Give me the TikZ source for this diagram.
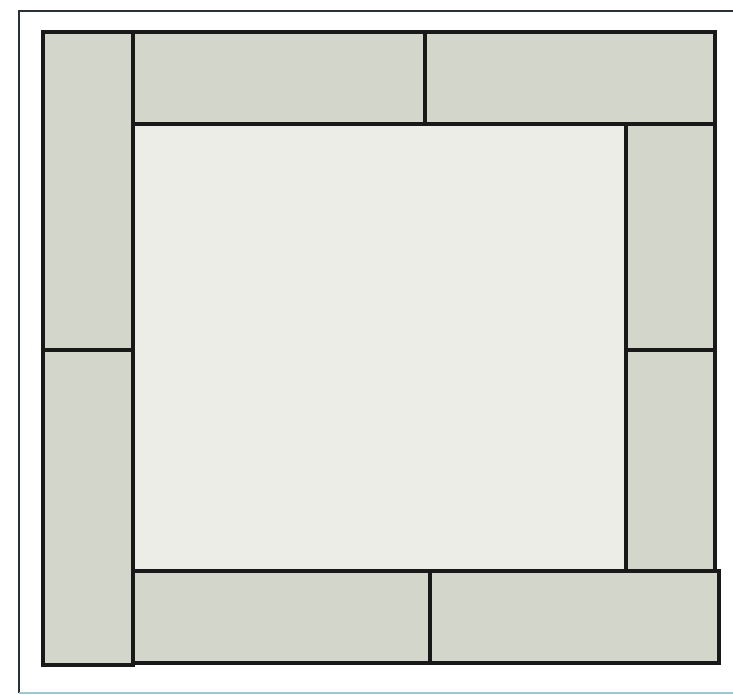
\documentclass[tikz,border=0pt]{standalone}
\definecolor{matfill}{HTML}{D3D6CB}
\definecolor{centerfill}{HTML}{EDEDE8}
\definecolor{framecol}{HTML}{2A3238}
\definecolor{bottomcol}{HTML}{9FC6CC}
\tikzset{
  mat/.style={draw=black!90, line width=3.4pt, fill=matfill},
  centermat/.style={draw=black!90, line width=3.4pt, fill=centerfill},
}
\begin{document}
\begin{tikzpicture}[x=1pt,y=-1pt]
\useasboundingbox (0,0) rectangle (733,695);
\fill[white] (0,0) rectangle (733,695);
% outer frame
\draw[framecol, line width=2.4pt] (19,693) -- (19,11) -- (733,11);
\draw[bottomcol, line width=2.4pt] (19,693) -- (733,693);
% center
\path[centermat] (133,124) rectangle (626,571);
% left column
\path[mat] (43,32) rectangle (133,350);
\path[mat] (43,350) rectangle (133,665);
% top mats
\path[mat] (133,32) rectangle (425,124);
\path[mat] (425,32) rectangle (715,124);
% right column
\path[mat] (626,124) rectangle (715,350);
\path[mat] (626,350) rectangle (715,571);
% bottom mats
\path[mat] (133,571) rectangle (430,663);
\path[mat] (430,571) rectangle (719,663);
\end{tikzpicture}
\end{document}
